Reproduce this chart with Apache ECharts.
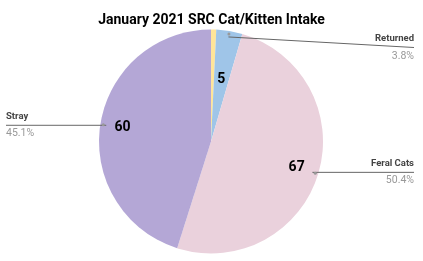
<!DOCTYPE html>
<html>
<head>
<meta charset="utf-8">
<script src="https://cdn.jsdelivr.net/npm/echarts@6/dist/echarts.min.js"></script>
<style>html,body{margin:0;padding:0;background:#fff}#c{width:423px;height:261px}</style>
</head>
<body>
<div id="c"></div>
<script>
const titleText = 'January 2021 SRC Cat/Kitten Intake';
const categories = ['Other', 'Returned', 'Feral Cats', 'Stray'];
const values = [1, 5, 67, 60];
const colors = ['#ffe599', '#9fc5e8', '#ead1dc', '#b4a7d6'];
const showOuter = [false, true, true, true];
const bigValueLabel = [false, false, true, true];
const smallValueLabel = [false, true, false, false];

const chart = echarts.init(document.getElementById('c'), null, {renderer: 'canvas'});
const FONT = 'Roboto';
const R = 112;
const MIN_LABEL_TOP = 34;
const common = {
  type: 'pie', left: 6, right: 9, top: 0, bottom: 0,
  center: [205, 141.5], startAngle: 90, clockwise: true,
  percentPrecision: 1, avoidLabelOverlap: false, animation: false
};
function mkData(opts) {
  return categories.map((c, i) => Object.assign({name: c, value: values[i]}, opts(i)));
}
const valueLabel = {position: 'inside', formatter: '{c}', fontFamily: FONT, fontWeight: 'bold', fontSize: 14, color: '#000', padding: [5, 0, 0, 0]};
const option = {
  title: {
    text: titleText, left: 'center', top: 8,
    textStyle: {fontFamily: FONT, fontWeight: 'bold', fontSize: 14, color: '#000'}
  },
  series: [
    Object.assign({}, common, {
      radius: [0, R],
      itemStyle: {borderWidth: 0},
      label: {show: false}, labelLine: {show: false},
      data: mkData(i => ({itemStyle: {color: colors[i]}}))
    }),
    Object.assign({}, common, {
      radius: [61, R], silent: true,
      itemStyle: {color: 'rgba(0,0,0,0)'},
      label: valueLabel,
      labelLine: {show: false},
      data: mkData(i => ({label: {show: bigValueLabel[i]}}))
    }),
    Object.assign({}, common, {
      radius: [34, 86], silent: true,
      itemStyle: {color: 'rgba(0,0,0,0)'},
      label: valueLabel,
      labelLine: {show: false},
      data: mkData(i => ({label: {show: smallValueLabel[i]}}))
    }),
    Object.assign({}, common, {
      radius: [0, 106], silent: true, z: 3,
      itemStyle: {color: 'rgba(0,0,0,0)'},
      label: {
        position: 'outer', alignTo: 'edge', edgeDistance: 0,
        formatter: '{n|{b}}\n{p|{d}%}',
        rich: {
          n: {fontFamily: FONT, fontSize: 9.5, fontWeight: 'bold', color: '#444', lineHeight: 17},
          p: {fontFamily: FONT, fontSize: 10.5, color: '#999', lineHeight: 17}
        }
      },
      labelLine: {show: true, length: 0, length2: 10, smooth: false, lineStyle: {color: '#666', width: 1}},
      labelLayout: function (p) {
        const pts = p.labelLinePoints;
        if (!pts) return {};
        const r = p.labelRect;
        const dy = r.y < MIN_LABEL_TOP ? MIN_LABEL_TOP - r.y : 0;
        const isLeft = pts[pts.length - 1][0] < pts[0][0];
        const endX = isLeft ? r.x : r.x + r.width;
        const last = pts[pts.length - 1];
        return {dy: dy, labelLinePoints: [pts[0], pts[0], [endX, last[1] + dy]]};
      },
      data: mkData(i => ({label: {show: showOuter[i]}, labelLine: {show: showOuter[i]}}))
    }),
    Object.assign({}, common, {
      radius: [102, 110], silent: true, z: 4,
      itemStyle: {color: 'rgba(0,0,0,0)'},
      label: {
        position: 'inside', formatter: '{a|}',
        rich: {a: {width: 3, height: 3, borderRadius: 1.5, backgroundColor: '#999'}}
      },
      labelLine: {show: false},
      data: mkData(i => ({label: {show: showOuter[i]}}))
    })
  ]
};
chart.setOption(option);
</script>
</body>
</html>
